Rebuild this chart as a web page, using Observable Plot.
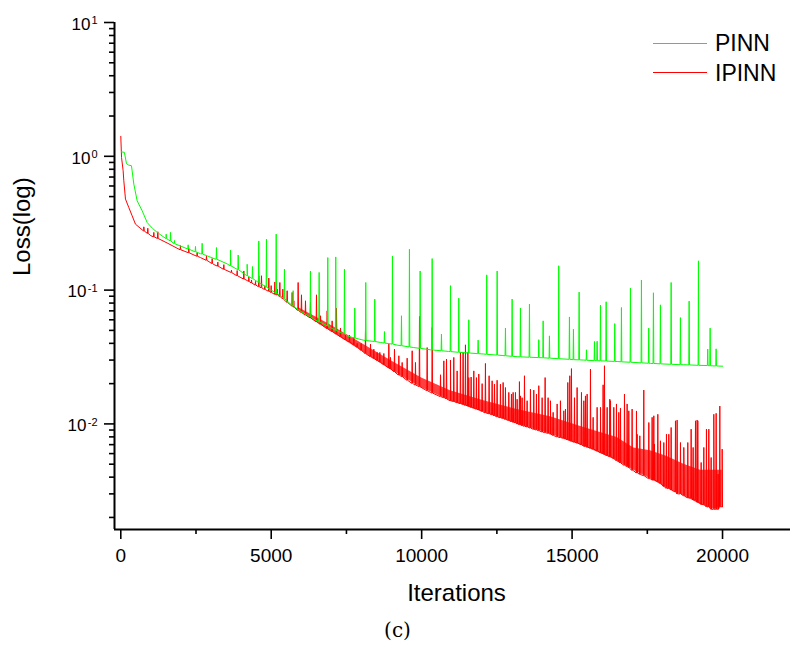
<!DOCTYPE html>
<html><head><meta charset="utf-8">
<script src="https://cdn.jsdelivr.net/npm/d3@7"></script>
<script src="https://cdn.jsdelivr.net/npm/@observablehq/plot@0.6"></script>
<style>
body{margin:0;background:#fff;}
#wrap{position:relative;width:795px;height:648px;font-family:"Liberation Sans",Arial,sans-serif;background:#fff;}
.lg-line{position:absolute;height:1px;width:54px;left:653px;}
.lg-text{position:absolute;left:715px;font-size:23px;line-height:23px;color:#000;white-space:nowrap;}
#cap{position:absolute;top:620px;left:0;width:795px;text-align:center;font-family:"DejaVu Serif",serif;font-size:20px;line-height:20px;color:#000;}
</style></head>
<body><div id="wrap"></div>
<script>
// ---- tick values ----
const xMajorTicks = [0, 5000, 10000, 15000, 20000];
const xMinorTicks = [2500, 7500, 12500, 17500];
const yMajorTicks = [10, 1, 0.1, 0.01];
const yExponents = ["1", "0", "-1", "-2"];
const yMinorTicks = [9, 8, 7, 6, 5, 4, 3, 2, 0.9, 0.8, 0.7, 0.6, 0.5, 0.4, 0.3, 0.2,
  0.09, 0.08, 0.07, 0.06, 0.05, 0.04, 0.03, 0.02, 0.009, 0.008, 0.007, 0.006, 0.005, 0.004, 0.003, 0.002];
const seriesNames = ["PINN", "IPINN"];

// ---- PINN (green): smooth trend [iteration, loss] ----
const pinnBase = [[20,1.08],[120,1.07],[190,0.88],[260,0.86],[355,0.85],[433,0.62],[544,0.465],[710,0.392],[876,0.32],[1050,0.29],[1209,0.27],[1500,0.242],[1763,0.223],[2200,0.204],[2649,0.187],[3100,0.172],[3535,0.157],[3646,0.152],[4089,0.133],[4200,0.128],[4755,0.108],[5309,0.0906],[5863,0.0721],[6414,0.0607],[6969,0.0525],[7524,0.0455],[8076,0.0422],[8635,0.0406],[9186,0.0388],[9738,0.0372],[10293,0.0358],[10900,0.0348],[12064,0.0333],[13174,0.0318],[14281,0.031],[15388,0.030],[16497,0.0293],[17604,0.0283],[18711,0.0277],[20000,0.027]];
// PINN spikes [iteration, base, peak]
const pinnSpikes = [[1508,0.243,0.262],[1652,0.233,0.27],[1785,0.222,0.235],[2239,0.203,0.218],[2483,0.193,0.212],[2704,0.186,0.224],[3181,0.17,0.208],[3646,0.152,0.199],[3902,0.142,0.183],[4200,0.128,0.156],[4377,0.122,0.15],[4586,0.114,0.233],[4842,0.105,0.24],[5165,0.095,0.262],[5440,0.086,0.1435],[5729,0.076,0.099],[6304,0.063,0.139],[6593,0.058,0.1355],[6880,0.054,0.175],[7145,0.050,0.177],[7434,0.047,0.1435],[7777,0.0438,0.0734],[8142,0.042,0.114],[8441,0.0413,0.0857],[8764,0.0402,0.049],[9029,0.0395,0.18],[9329,0.0384,0.0643],[9594,0.0376,0.202],[9950,0.0367,0.139],[10349,0.0357,0.172],[10658,0.0352,0.0469],[10960,0.0347,0.108],[11234,0.0343,0.087],[11566,0.0339,0.06],[11877,0.0335,0.0423],[12163,0.0331,0.13],[12509,0.0327,0.139],[12785,0.0323,0.052],[13007,0.032,0.0857],[13284,0.0317,0.0734],[13583,0.0315,0.0786],[13892,0.0313,0.0426],[14038,0.0312,0.0589],[14247,0.031,0.0455],[14556,0.0307,0.152],[14912,0.0304,0.063],[15045,0.0302,0.051],[15234,0.0301,0.0966],[15478,0.0299,0.0358],[15744,0.0297,0.0413],[15832,0.0297,0.0415],[15943,0.0296,0.0773],[16132,0.0295,0.0818],[16418,0.0293,0.0562],[16640,0.0291,0.0741],[16940,0.0289,0.1035],[17305,0.0286,0.119],[17547,0.0284,0.052],[17704,0.0283,0.0955],[17936,0.0281,0.0776],[18292,0.0279,0.114],[18601,0.0277,0.0623],[18890,0.0276,0.0828],[19200,0.0274,0.1655],[19508,0.0273,0.0362],[19588,0.0272,0.052],[19787,0.0271,0.0364]];

// ---- IPINN (red): lower envelope [iteration, loss] ----
const ipinnBase = [[0,1.41],[25,0.98],[78,0.78],[101,0.656],[156,0.479],[267,0.414],[378,0.359],[488,0.311],[765,0.277],[1000,0.255],[1541,0.225],[2100,0.196],[2649,0.175],[3100,0.155],[3646,0.136],[4200,0.118],[4755,0.1016],[5309,0.089],[5863,0.071],[6414,0.0597],[6969,0.0497],[7524,0.0418],[8076,0.0342],[8635,0.0288],[9186,0.0235],[9738,0.0198],[10293,0.0172],[10845,0.0153],[10957,0.0149],[11400,0.0139],[12065,0.0122],[13173,0.01003],[14281,0.00837],[15389,0.00684],[15943,0.00613],[16497,0.0053],[17051,0.00446],[17605,0.00389],[18159,0.00329],[18713,0.00292],[19267,0.00254],[19710,0.00232],[19987,0.00245]];
// IPINN spikes [iteration, base, peak]
const ipinnSpikes = [[765,0.277,0.297],[898,0.265,0.29],[1098,0.25,0.27],[1231,0.243,0.273],[1984,0.2,0.215],[2261,0.19,0.205],[2538,0.179,0.19],[2848,0.167,0.18],[3037,0.158,0.172],[3225,0.151,0.162],[3425,0.143,0.155],[3679,0.135,0.141],[3868,0.128,0.14],[4089,0.121,0.139],[4256,0.116,0.125],[4344,0.113,0.119],[4477,0.109,0.116],[4588,0.106,0.128],[4676,0.104,0.128],[4787,0.101,0.108],[4920,0.098,0.123],[4998,0.096,0.108],[5120,0.093,0.115],[5197,0.092,0.1017],[5286,0.0895,0.114],[5386,0.086,0.1017],[5530,0.081,0.0989],[5696,0.076,0.096],[5751,0.0745,0.0832],[5895,0.0705,0.114],[6006,0.068,0.0922],[6139,0.065,0.0832],[6305,0.062,0.0808],[6505,0.058,0.0922],[6638,0.0555,0.0643],[6859,0.0515,0.07],[7025,0.049,0.0589],[7169,0.0468,0.0733],[7302,0.0448,0.052],[7469,0.0425,0.0469],[7602,0.041,0.046],[7746,0.039,0.0442],[7856,0.0375,0.04],[7989,0.0355,0.0399],[8133,0.0335,0.0496],[8300,0.0318,0.0395],[8410,0.0308,0.0362],[8521,0.0298,0.0342],[8610,0.029,0.0342],[8743,0.0277,0.0336],[8909,0.0262,0.0395],[8964,0.0257,0.0314],[9097,0.0245,0.0362],[9242,0.0232,0.0323],[9352,0.0225,0.0288],[9518,0.0212,0.031],[9685,0.0201,0.0352],[9795,0.0195,0.0288],[9928,0.019,0.0635],[10183,0.0177,0.0372],[10350,0.017,0.0525],[10627,0.016,0.0233],[10737,0.0157,0.0296],[10826,0.0154,0.0305],[10957,0.0149,0.030],[11068,0.0147,0.0314],[11179,0.0144,0.0249],[11289,0.0142,0.0342],[11378,0.014,0.0342],[11456,0.0138,0.039],[11535,0.0136,0.0342],[11566,0.0135,0.0222],[11644,0.0133,0.0224],[11733,0.0131,0.0249],[11821,0.0129,0.0222],[11899,0.0127,0.0236],[12010,0.0124,0.02],[12120,0.0121,0.0283],[12242,0.0119,0.0229],[12342,0.0117,0.021],[12420,0.0115,0.0198],[12508,0.0113,0.0212],[12619,0.0111,0.0198],[12708,0.011,0.0204],[12785,0.0108,0.0187],[12896,0.0106,0.0172],[12985,0.0104,0.0167],[13040,0.0103,0.0172],[13118,0.0102,0.0172],[13173,0.0100,0.0153],[13250,0.0099,0.0207],[13284,0.0098,0.0162],[13339,0.0097,0.0157],[13417,0.0096,0.0229],[13505,0.0095,0.0149],[13616,0.0093,0.0182],[13727,0.0091,0.0179],[13816,0.009,0.0167],[13893,0.0089,0.0193],[14004,0.0087,0.0157],[14104,0.0086,0.0222],[14203,0.0085,0.0157],[14281,0.0084,0.0149],[14370,0.0082,0.0122],[14503,0.008,0.0141],[14613,0.0079,0.0149],[14724,0.0078,0.01253],[14780,0.0077,0.0129],[14857,0.0076,0.0204],[14924,0.0075,0.0229],[14979,0.0074,0.0259],[15079,0.0073,0.0157],[15167,0.0072,0.0187],[15312,0.007,0.0172],[15389,0.0068,0.0149],[15444,0.0068,0.0162],[15500,0.0067,0.0167],[15611,0.0066,0.0257],[15699,0.0065,0.0112],[15832,0.0063,0.0133],[15943,0.0061,0.0133],[16031,0.006,0.0196],[16076,0.0059,0.0272],[16165,0.0058,0.0133],[16253,0.0057,0.0153],[16275,0.0057,0.0149],[16386,0.0055,0.0133],[16475,0.0053,0.0141],[16552,0.0052,0.0122],[16608,0.0051,0.0131],[16741,0.0049,0.0167],[16829,0.0048,0.0141],[16885,0.0047,0.01253],[16995,0.0045,0.0129],[17140,0.0043,0.0125],[17162,0.0043,0.00837],[17251,0.0042,0.00815],[17383,0.0041,0.0179],[17550,0.0039,0.01024],[17660,0.0038,0.0112],[17716,0.0038,0.0115],[17738,0.0038,0.00706],[17849,0.0037,0.0118],[17937,0.0036,0.00748],[18048,0.0034,0.00726],[18137,0.0033,0.00837],[18214,0.0033,0.00837],[18292,0.0032,0.0094],[18436,0.0031,0.01055],[18491,0.003,0.01068],[18602,0.003,0.00726],[18713,0.0029,0.00667],[18846,0.0028,0.00726],[18957,0.0028,0.00914],[19023,0.0027,0.00667],[19101,0.0027,0.01055],[19156,0.0026,0.01068],[19178,0.0026,0.01055],[19289,0.0025,0.00515],[19378,0.0025,0.00667],[19466,0.0024,0.00914],[19544,0.0024,0.00914],[19621,0.0023,0.00561],[19710,0.0023,0.0118],[19788,0.0023,0.012],[19854,0.0023,0.00422],[19910,0.0024,0.0136],[19987,0.0024,0.00648]];
// IPINN dense oscillation band [iteration, low, high]
const ipinnBand = [[5900,0.0700,0.074],[6900,0.0505,0.056],[8000,0.0350,0.040],[9000,0.0252,0.0295],[10000,0.0186,0.022],[10957,0.0149,0.0177],[12065,0.0122,0.0149],[13173,0.0100,0.0128],[14281,0.0084,0.0113],[15389,0.0068,0.0094],[16497,0.0053,0.0079],[17051,0.0045,0.0066],[17605,0.0039,0.0063],[18159,0.0033,0.0057],[18713,0.0029,0.0050],[19267,0.0025,0.0045],[19710,0.0023,0.0045],[19987,0.0024,0.0045]];

function withSpikes(base, spikes, hw) {
  const pts = base.map(([x, y]) => [x, y]);
  for (const [x, b, p] of spikes) pts.push([x - hw, b], [x, p], [x + hw, b]);
  return pts.sort((a, b) => a[0] - b[0]);
}
const pinnLine = withSpikes(pinnBase, pinnSpikes, 12);
const ipinnLine = withSpikes(ipinnBase, ipinnSpikes, 12);

const GREEN = "#00ff00", RED = "#ff0000";
const yLabels = yMajorTicks.map((v, i) => ({v, e: yExponents[i]}));
const posLabels = yLabels.filter(d => !d.e.startsWith("-"));
const negLabels = yLabels.filter(d => d.e.startsWith("-"));

const chart = Plot.plot({
  width: 795, height: 612,
  marginLeft: 114, marginRight: 5, marginTop: 22, marginBottom: 83,
  style: {fontFamily: "'Liberation Sans', Arial, sans-serif", fontSize: "19px", color: "#000", background: "#fff", overflow: "visible"},
  x: {type: "linear", domain: [-209, 22259]},
  y: {type: "log", domain: [0.001625, 10]},
  marks: [
    Plot.areaY(ipinnBand, {x: d => d[0], y1: d => d[1], y2: d => d[2], fill: RED, fillOpacity: 0.75, curve: "linear"}),
    Plot.line(ipinnLine, {x: d => d[0], y: d => d[1], stroke: RED, strokeWidth: 1}),
    Plot.line(pinnLine, {x: d => d[0], y: d => d[1], stroke: GREEN, strokeWidth: 1}),
    Plot.axisX(xMajorTicks, {tickSize: 10, tickPadding: 9, strokeWidth: 1.6, fontSize: 19, tickFormat: d => String(d), label: null}),
    Plot.axisX(xMinorTicks, {tickSize: 5, strokeWidth: 1.6, tickFormat: () => "", label: null}),
    Plot.axisY(yMajorTicks, {tickSize: 10, strokeWidth: 1.6, tickFormat: () => "", label: null}),
    Plot.axisY(yMinorTicks, {tickSize: 5, strokeWidth: 1.6, tickFormat: () => "", label: null}),
    Plot.ruleX([-209], {stroke: "#000", strokeWidth: 2}),
    Plot.ruleY([0.001625], {stroke: "#000", strokeWidth: 2}),
    Plot.text(posLabels, {y: d => d.v, text: () => "10", frameAnchor: "left", textAnchor: "end", lineAnchor: "bottom", dx: -24, dy: 7.3, fontSize: 17}),
    Plot.text(negLabels, {y: d => d.v, text: () => "10", frameAnchor: "left", textAnchor: "end", lineAnchor: "bottom", dx: -28, dy: 7.3, fontSize: 17}),
    Plot.text(yLabels, {y: d => d.v, text: d => d.e, frameAnchor: "left", textAnchor: "end", lineAnchor: "bottom", dx: -17, dy: 1.7, fontSize: 11}),
    Plot.text(["Iterations"], {frameAnchor: "bottom", lineAnchor: "bottom", dx: 4, dy: 71, fontSize: 24}),
    Plot.text(["Loss(log)"], {frameAnchor: "left", lineAnchor: "bottom", rotate: -90, dx: -85, fontSize: 24})
  ]
});

const wrap = document.getElementById("wrap");
wrap.appendChild(chart);
const legendItems = [{name: seriesNames[0], color: GREEN, y: 43, top: 32}, {name: seriesNames[1], color: RED, y: 72, top: 61.5}];
for (const it of legendItems) {
  const ln = document.createElement("div");
  ln.className = "lg-line"; ln.style.top = (it.y - 0.5) + "px"; ln.style.background = it.color;
  wrap.appendChild(ln);
  const tx = document.createElement("div");
  tx.className = "lg-text"; tx.style.top = it.top + "px"; tx.textContent = it.name;
  wrap.appendChild(tx);
}
const cap = document.createElement("div");
cap.id = "cap"; cap.textContent = "(c)";
wrap.appendChild(cap);
</script>
</body></html>
